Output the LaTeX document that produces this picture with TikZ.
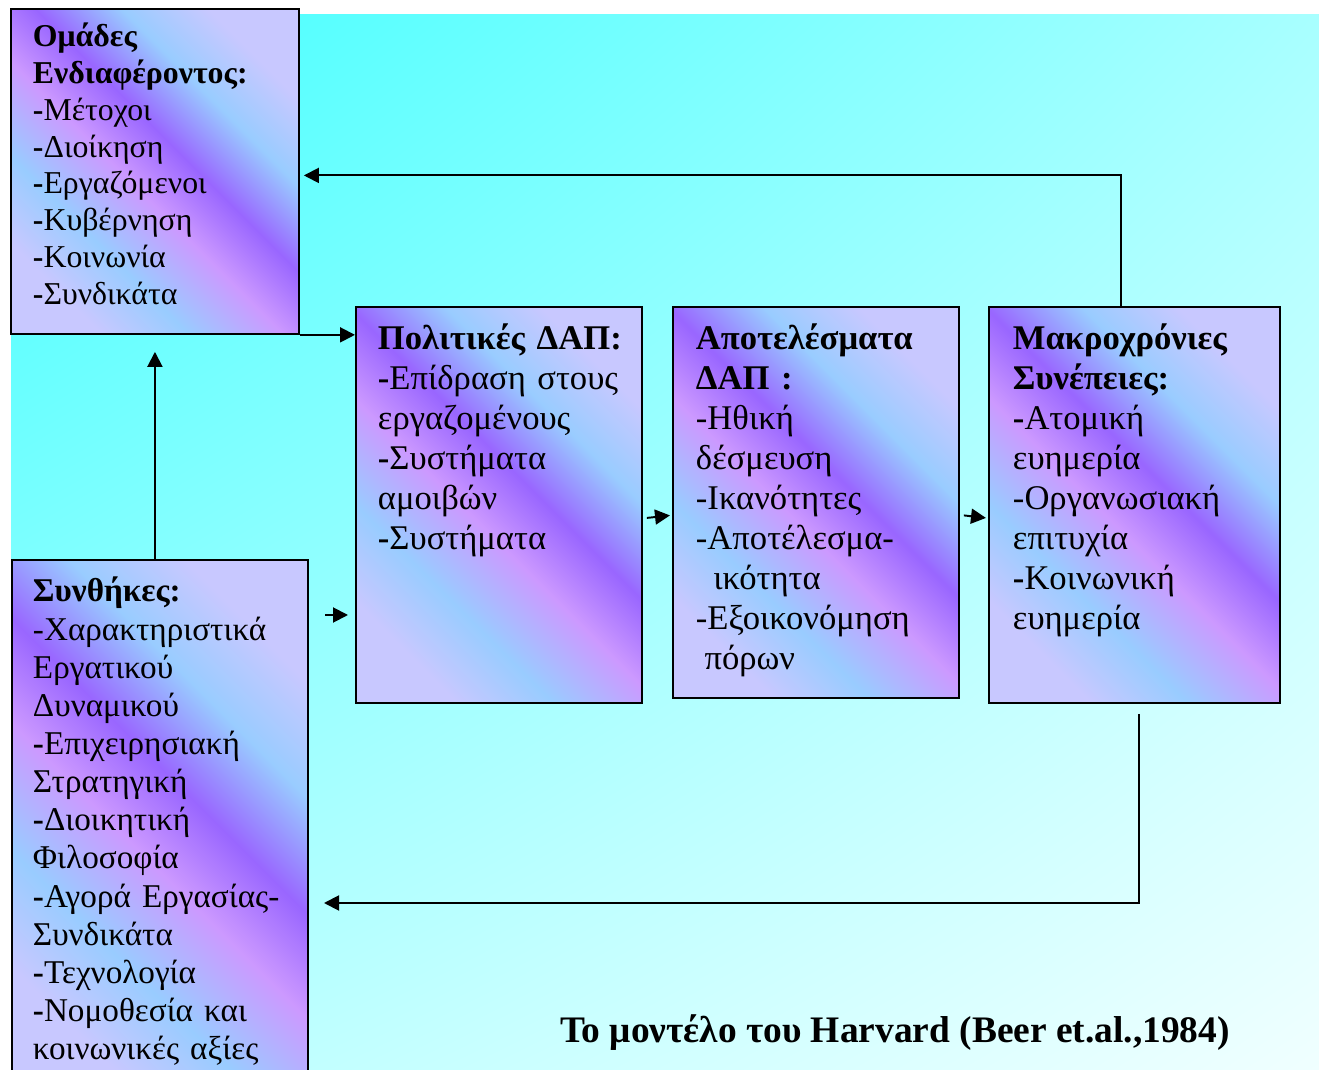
\documentclass[tikz,border=0pt]{standalone}
\usepackage{fontspec}
\setmainfont{Liberation Serif}
\usetikzlibrary{
    calc,
    arrows.meta,
    shadings,
    positioning
}
\definecolor{bgtl}{HTML}{40FFFF}
\definecolor{bgtr}{HTML}{A8FFFF}
\definecolor{bgbl}{HTML}{B4FFFF}
\definecolor{bgbr}{HTML}{F0FFFF}
\definecolor{boxlav}{HTML}{C8C8FF}
\definecolor{boxblue}{HTML}{99CCFF}
\definecolor{boxpink}{HTML}{CC99FF}
\definecolor{boxpurple}{HTML}{9966FF}
\pgfdeclarehorizontalshading{boxfill}{100bp}{
  color(0bp)=(boxlav); color(25bp)=(boxlav); color(35bp)=(boxblue);
  color(46bp)=(boxpink); color(55bp)=(boxpurple); color(65bp)=(boxblue);
  color(75bp)=(boxlav); color(100bp)=(boxlav)}
\tikzset{
  every path/.style={
    black,
    line width=1.1pt
  },
  panel/.style={
    draw,
    anchor=north west,
    inner sep=0pt,
    shading=boxfill,
    shading angle=45
  },
  txt/.style={
    anchor=base west,
    inner sep=0pt,
    align=left,
    text width=5.3cm
  },
  arr/.style={
    -{Triangle[length=0.3cm,width=0.3cm]}
  }
}

\begin{document}
\begin{tikzpicture}[x=0.02cm, y=-0.02cm]
    \useasboundingbox (0,0) rectangle (1319,1070);
    \shade[upper left=bgtl, upper right=bgtr, lower left=bgbl, lower right=bgbr]
        (11,15) rectangle (1319,1070);

    % κουτιά
    \node[panel, minimum width=5.76cm, minimum height=6.5cm] (O) at (10,8) {};
    \node[panel, minimum width=5.72cm, minimum height=7.92cm] (P) at (355,306) {};
    \node[panel, minimum width=5.72cm, minimum height=7.82cm] (A) at (672,306) {};
    \node[panel, minimum width=5.82cm, minimum height=7.92cm] (M) at (988,306) {};
    \node[panel, minimum width=5.92cm, minimum height=10.6cm] (S) at (11,559) {};

    % κείμενα
    \node[txt, font=\fontsize{18.1}{20.9}\selectfont] (Otxt) at (32,47)
        {\textbf{Ομάδες}\\ \textbf{Ενδιαφέροντος:}\\ \textbf{-}Μέτοχοι\\
         \textbf{-}Διοίκηση\\ \textbf{-}Εργαζόμενοι\\ \textbf{-}Κυβέρνηση\\
         \textbf{-}Κοινωνία\\ \textbf{-}Συνδικάτα};
    \node[txt, font=\fontsize{19.7}{22.76}\selectfont] (Ptxt) at (377,350)
        {\textbf{Πολιτικές ΔΑΠ:}\\ \textbf{-}Επίδραση στους\\ εργαζομένους\\
         \textbf{-}Συστήματα\\ αμοιβών\\ \textbf{-}Συστήματα};
    \node[txt, font=\fontsize{19.7}{22.76}\selectfont] (Atxt) at (695,350)
        {\textbf{Αποτελέσματα}\\ \textbf{ΔΑΠ :}\\ -Ηθική\\ δέσμευση\\
         -Ικανότητες\\ -Αποτέλεσμα-\\ \hspace*{0.5em}ικότητα\\
         -Εξοικονόμηση\\ \hspace*{0.25em}πόρων};
    \node[txt, font=\fontsize{19.7}{22.76}\selectfont] (Mtxt) at (1012,350)
        {\textbf{Μακροχρόνιες}\\ \textbf{Συνέπειες:}\\ \textbf{-}Ατομική\\
         ευημερία\\ -Οργανωσιακή\\ επιτυχία\\ \textbf{-}Κοινωνική\\ ευημερία};
    \node[txt, font=\fontsize{18.9}{21.7}\selectfont] (Stxt) at (32,602)
        {\textbf{Συνθήκες:}\\ -Χαρακτηριστικά\\ Εργατικού\\ Δυναμικού\\
         \textbf{-}Επιχειρησιακή\\ Στρατηγική\\ \textbf{-}Διοικητική\\ Φιλοσοφία\\
         \textbf{-}Αγορά Εργασίας-\\ Συνδικάτα\\ \textbf{-}Τεχνολογία\\
         \textbf{-}Νομοθεσία και\\ κοινωνικές αξίες};
    \node[anchor=base, inner sep=0pt, font=\fontsize{21.3}{24}\selectfont\bfseries]
        (T) at (895,1042) {Το μοντέλο του Harvard (Beer et.al.,1984)};

    % βέλη
    \coordinate (s1) at (325,615);
    \coordinate (s2) at (348,615);
    \coordinate (fb) at (324,903);
    \draw[arr] (O.south east) -- (O.south east -| P.west);
    \draw[arr] (s1) -- (s2);
    \draw[arr] ($(P.east)+(4,13)$) -- ($(A.west)+(-2,13)$);
    \draw[arr] ($(A.east)+(4,13)$) -- ($(M.west)+(-2,13)$);
    \draw[arr] ($(M.north)+(-13,0)$) |- ($(O.east)+(4,4)$);
    \draw[arr] ($(M.south)+(5,10)$) |- (fb);
    \draw[arr] (S.north -| O.south) -- ($(O.south)+(0,17)$);
\end{tikzpicture}
\end{document}
